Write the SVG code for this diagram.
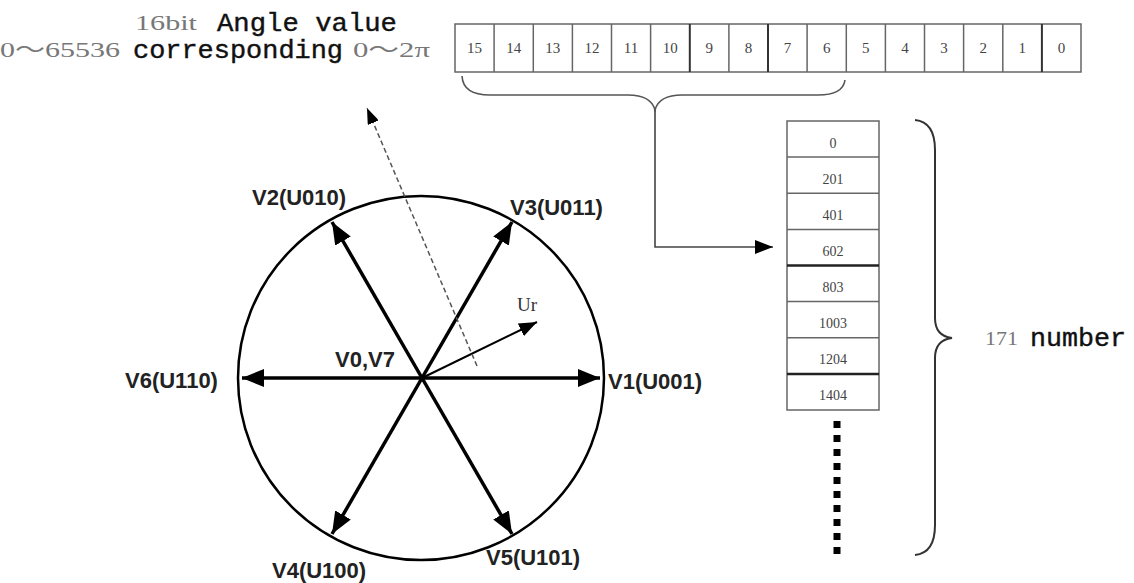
<svg xmlns="http://www.w3.org/2000/svg" width="1134" height="583" viewBox="0 0 1134 583">
<style>
.cell{fill:#fff;stroke:#666;stroke-width:1.5}
.bnum{font-family:"Liberation Serif",serif;font-size:15px;fill:#444;text-anchor:middle}
.tnum{font-family:"Liberation Serif",serif;font-size:14px;fill:#444;text-anchor:middle}
.mono{font-family:"Liberation Mono",monospace;font-size:26px;fill:#111;stroke:#111;stroke-width:0.4}
.gray{font-family:"Liberation Serif","Noto Sans CJK SC",serif;fill:#777}
.vlab{font-family:"Liberation Sans",Arial,sans-serif;font-weight:bold;font-size:22px;fill:#222}
.vec{stroke:#000;stroke-width:3.5;fill:none;marker-end:url(#big)}
.brace{fill:none;stroke:#555;stroke-width:1.6}
</style>
<defs>
<marker id="big" viewBox="0 0 22 18" refX="22" refY="9" markerWidth="22" markerHeight="18" markerUnits="userSpaceOnUse" orient="auto"><path d="M0,0 L22,9 L0,18 z" fill="#000"/></marker>
<marker id="mid" viewBox="0 0 18 14" refX="18" refY="7" markerWidth="18" markerHeight="14" markerUnits="userSpaceOnUse" orient="auto"><path d="M0,0 L18,7 L0,14 z" fill="#000"/></marker>
<marker id="small" viewBox="0 0 16 12" refX="16" refY="6" markerWidth="16" markerHeight="12" markerUnits="userSpaceOnUse" orient="auto"><path d="M0,0 L16,6 L0,12 z" fill="#000"/></marker>
</defs>
<rect width="1134" height="583" fill="#fff"/>

<g id="angle-label">
<text x="135" y="30" class="gray" font-size="22" textLength="62" lengthAdjust="spacingAndGlyphs">16bit</text>
<text x="217" y="31" class="mono" textLength="180" lengthAdjust="spacingAndGlyphs">Angle value</text>
<text x="0" y="57" class="gray" font-size="22" textLength="120" lengthAdjust="spacingAndGlyphs">0～65536</text>
<text x="133" y="58" class="mono" textLength="210" lengthAdjust="spacingAndGlyphs">corresponding</text>
<text x="353" y="57" class="gray" font-size="22" textLength="77" lengthAdjust="spacingAndGlyphs">0～2π</text>
</g>

<g id="bit-register">
<rect class="cell" x="455" y="24" width="626" height="48"/>
<g stroke="#666" stroke-width="1.5">
<line x1="494.1" y1="24" x2="494.1" y2="72"/><line x1="533.3" y1="24" x2="533.3" y2="72"/><line x1="572.4" y1="24" x2="572.4" y2="72"/><line x1="611.5" y1="24" x2="611.5" y2="72"/><line x1="650.6" y1="24" x2="650.6" y2="72"/>
<line x1="689.8" y1="24" x2="689.8" y2="72" stroke="#333" stroke-width="2"/><line x1="728.9" y1="24" x2="728.9" y2="72"/>
<line x1="768" y1="24" x2="768" y2="72" stroke="#333" stroke-width="2"/><line x1="807.1" y1="24" x2="807.1" y2="72"/>
<line x1="846.3" y1="24" x2="846.3" y2="72"/><line x1="885.4" y1="24" x2="885.4" y2="72"/><line x1="924.5" y1="24" x2="924.5" y2="72"/><line x1="963.6" y1="24" x2="963.6" y2="72"/><line x1="1002.8" y1="24" x2="1002.8" y2="72"/>
<line x1="1041.9" y1="24" x2="1041.9" y2="72" stroke="#333" stroke-width="2"/>
</g>
<text class="bnum" x="474.6" y="53">15</text><text class="bnum" x="513.7" y="53">14</text><text class="bnum" x="552.8" y="53">13</text><text class="bnum" x="591.9" y="53">12</text>
<text class="bnum" x="631.1" y="53">11</text><text class="bnum" x="670.2" y="53">10</text><text class="bnum" x="709.3" y="53">9</text><text class="bnum" x="748.4" y="53">8</text>
<text class="bnum" x="787.6" y="53">7</text><text class="bnum" x="826.7" y="53">6</text><text class="bnum" x="865.8" y="53">5</text><text class="bnum" x="904.9" y="53">4</text>
<text class="bnum" x="944.1" y="53">3</text><text class="bnum" x="983.2" y="53">2</text><text class="bnum" x="1022.3" y="53">1</text><text class="bnum" x="1061.4" y="53">0</text>
</g>

<g id="lookup-table">
<rect class="cell" x="787" y="121" width="92" height="289"/>
<g stroke="#666" stroke-width="1.5">
<line x1="787" y1="157.1" x2="879" y2="157.1"/><line x1="787" y1="193.3" x2="879" y2="193.3"/><line x1="787" y1="229.4" x2="879" y2="229.4"/>
<line x1="787" y1="265.5" x2="879" y2="265.5" stroke="#222" stroke-width="2.5"/>
<line x1="787" y1="301.6" x2="879" y2="301.6"/><line x1="787" y1="337.8" x2="879" y2="337.8"/>
<line x1="787" y1="373.9" x2="879" y2="373.9" stroke="#222" stroke-width="2.5"/>
</g>
<text class="tnum" x="833" y="148">0</text><text class="tnum" x="833" y="184">201</text><text class="tnum" x="833" y="220">401</text><text class="tnum" x="833" y="256">602</text>
<text class="tnum" x="833" y="292">803</text><text class="tnum" x="833" y="328">1003</text><text class="tnum" x="833" y="364">1204</text><text class="tnum" x="833" y="400">1404</text>
<g fill="#000">
<rect x="833.5" y="421" width="7" height="7"/><rect x="833.5" y="435" width="7" height="7"/><rect x="833.5" y="449" width="7" height="7"/><rect x="833.5" y="463" width="7" height="7"/><rect x="833.5" y="477" width="7" height="7"/>
<rect x="833.5" y="491" width="7" height="7"/><rect x="833.5" y="505" width="7" height="7"/><rect x="833.5" y="519" width="7" height="7"/><rect x="833.5" y="533" width="7" height="7"/><rect x="833.5" y="547" width="7" height="7"/>
</g>
</g>

<g id="count-label">
<text x="985" y="345" class="gray" font-size="19" textLength="33" lengthAdjust="spacingAndGlyphs">171</text>
<text x="1030" y="346" class="mono" textLength="96" lengthAdjust="spacingAndGlyphs">number</text>
</g>

<g id="connectors">
<path class="brace" d="M462,76 Q463,95 490,95 L628,95 Q651,95 655,110 Q659,95 682,95 L818,95 Q843,95 845,80"/>
<path d="M655,110 L655,247 L773,247" fill="none" stroke="#444" stroke-width="1.6" marker-end="url(#mid)"/>
<path d="M915,120 Q935,122 935,150 L935,318 Q935,336 952,338 Q935,340 935,358 L935,525 Q935,553 915,555" fill="none" stroke="#333" stroke-width="2"/>
</g>

<g id="vector-diagram">
<ellipse cx="421" cy="378" rx="183" ry="182" fill="none" stroke="#000" stroke-width="2.5"/>
<line class="vec" x1="422" y1="378" x2="600" y2="378"/>
<line class="vec" x1="422" y1="378" x2="242" y2="378"/>
<line class="vec" x1="422" y1="378" x2="512" y2="222"/>
<line class="vec" x1="422" y1="378" x2="332" y2="222"/>
<line class="vec" x1="422" y1="378" x2="332" y2="534"/>
<line class="vec" x1="422" y1="378" x2="512" y2="534"/>
<line x1="422" y1="378" x2="537" y2="322" stroke="#000" stroke-width="2" marker-end="url(#mid)"/>
<line x1="477" y1="366" x2="367" y2="108" stroke="#555" stroke-width="1.5" stroke-dasharray="5 3" marker-end="url(#small)"/>
<text x="517" y="311" font-family="Liberation Serif,serif" font-size="19" fill="#333">Ur</text>
<text class="vlab" x="252" y="205">V2(U010)</text>
<text class="vlab" x="510" y="215">V3(U011)</text>
<text class="vlab" x="335" y="367">V0,V7</text>
<text class="vlab" x="125" y="388">V6(U110)</text>
<text class="vlab" x="608" y="389">V1(U001)</text>
<text class="vlab" x="486" y="565">V5(U101)</text>
<text class="vlab" x="272" y="578">V4(U100)</text>
</g>
</svg>
